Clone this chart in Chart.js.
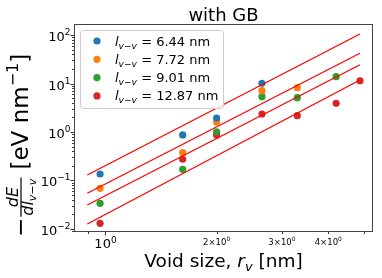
<!DOCTYPE html>
<html>
<head>
<meta charset="utf-8">
<script src="https://cdn.jsdelivr.net/npm/chart.js@4/dist/chart.umd.min.js"></script>
<style>
  body { margin: 0; background: #fff; }
  #wrap { width: 382px; height: 278px; }
</style>
</head>
<body>
<div id="wrap"><canvas id="c" width="382" height="278"></canvas></div>
<script>
// void sizes r_v (nm), shared by all series
const rv = [0.97, 1.62, 2.0, 2.65, 3.3, 4.2, 4.87];
const seriesNames = ['6.44', '7.72', '9.01', '12.87'];
const seriesColors = ['#1f77b4', '#ff7f0e', '#2ca02c', '#d62728'];
const blueY = [0.136, 0.87, 1.94, 10.1];
const orangeY = [0.069, 0.374, 1.61, 7.1, 8.2];
const greenY = [0.0339, 0.170, 1.01, 5.34, 5.1, 13.8];
const redY = [0.0131, 0.274, 0.87, 2.35, 2.17, 3.91, 11.4];
const seriesY = [blueY, orangeY, greenY, redY];

// power-law fit lines (endpoints)
const fitX = [0.896, 4.87];
const fitY = [[0.130, 105], [0.0545, 42], [0.0313, 24.4], [0.0127, 11.8]];

// axis limits and ticks
const xMin = 0.825, xMax = 5.28;
const yMin = 0.00867, yMax = 168.6;
const xMajorTicks = [1];
const xMinorTicks = [0.9, 2, 3, 4, 5];
const xMinorLabels = [2, 3, 4];
const yMajorExp = [-2, -1, 0, 1, 2];

const FONT = '"DejaVu Sans", sans-serif';
const fontOf = p => (p.it ? 'italic ' : '') + p.s + 'px ' + FONT;

function measureRich(ctx, parts) {
    let w = 0;
    parts.forEach(p => { ctx.font = fontOf(p); p.w = ctx.measureText(p.t).width; w += p.w; });
    return w;
}
function rich(ctx, x, y, parts, align) {
    const w = measureRich(ctx, parts);
    let cx = align === 'center' ? x - w / 2 : align === 'right' ? x - w : x;
    ctx.textAlign = 'left'; ctx.textBaseline = 'alphabetic';
    parts.forEach(p => { ctx.font = fontOf(p); ctx.fillText(p.t, cx, y + (p.dy || 0)); cx += p.w; });
    return w;
}
const sup = e => String(e).replace('-', '\u2212');

const decorPlugin = {
    id: 'decor',
    afterDraw(chart) {
        const ctx = chart.ctx, a = chart.chartArea;
        const xs = chart.scales.x, ys = chart.scales.y;
        ctx.save();
        ctx.fillStyle = '#000'; ctx.strokeStyle = '#222'; ctx.lineWidth = 0.9;

        // ticks
        const tick = (x1, y1, x2, y2) => { ctx.beginPath(); ctx.moveTo(x1, y1); ctx.lineTo(x2, y2); ctx.stroke(); };
        yMajorExp.forEach(e => {
            const py = Math.round(ys.getPixelForValue(Math.pow(10, e))) + 0.5;
            tick(a.left, py, a.left - 3.5, py);
            rich(ctx, a.left - 3.5, py + 5, [{ t: '10', s: 13 }, { t: sup(e), s: 9, dy: -5.5 }], 'right');
        });
        for (let e = -3; e <= 2; e++) {
            for (let k = 2; k <= 9; k++) {
                const v = k * Math.pow(10, e);
                if (v < yMin || v > yMax) continue;
                const py = Math.round(ys.getPixelForValue(v)) + 0.5;
                tick(a.left, py, a.left - 2, py);
            }
        }
        xMajorTicks.forEach(v => {
            const px = Math.round(xs.getPixelForValue(v)) + 0.5;
            tick(px, a.bottom, px, a.bottom + 3.5);
            rich(ctx, px, 248, [{ t: '10', s: 13 }, { t: '0', s: 9, dy: -5.5 }], 'center');
        });
        xMinorTicks.forEach(v => {
            const px = Math.round(xs.getPixelForValue(v)) + 0.5;
            tick(px, a.bottom, px, a.bottom + 2);
        });
        xMinorLabels.forEach(v => {
            const px = xs.getPixelForValue(v);
            rich(ctx, px, 244.5, [{ t: v + '\u00d710', s: 8.5 }, { t: '0', s: 6, dy: -3.5 }], 'center');
        });

        // frame
        ctx.strokeStyle = '#444'; ctx.lineWidth = 1;
        ctx.strokeRect(a.left + 0.5, a.top + 0.5, a.right - a.left - 1, a.bottom - a.top - 1);

        // title and x label
        const cx = (a.left + a.right) / 2;
        rich(ctx, cx, 20.5, [{ t: 'with GB', s: 18 }], 'center');
        rich(ctx, cx, 267, [{ t: 'Void size, ', s: 18.5 }, { t: 'r', s: 18.5, it: true },
            { t: 'v', s: 13, it: true, dy: 3.5 }, { t: ' [nm]', s: 18.5 }], 'center');

        // y label, rotated
        ctx.save();
        ctx.translate(0, 237); ctx.rotate(-Math.PI / 2);
        let u = rich(ctx, 0, 28, [{ t: '\u2212', s: 23 }]) + 1;
        const num = [{ t: 'dE', s: 16, it: true }];
        const den = [{ t: 'dl', s: 16, it: true }, { t: 'v\u2212v', s: 11.2, it: true, dy: 2.5 }];
        const fw = Math.max(measureRich(ctx, num), measureRich(ctx, den)) + 2;
        rich(ctx, u + fw / 2, 18, num, 'center');
        rich(ctx, u + fw / 2, 33, den, 'center');
        ctx.fillRect(u, 20.4, fw, 1.2);
        u += fw + 8;
        rich(ctx, u, 28, [{ t: '[eV nm', s: 23 }, { t: '\u22121', s: 16, dy: -10 }, { t: ']', s: 23 }]);
        ctx.restore();

        // legend
        ctx.beginPath();
        ctx.roundRect(80.5, 30.5, 143, 78, 3);
        ctx.fillStyle = 'rgba(255,255,255,0.8)'; ctx.fill();
        ctx.strokeStyle = '#cccccc'; ctx.lineWidth = 1; ctx.stroke();
        seriesNames.forEach((name, i) => {
            const ly = 41 + i * 18.3;
            ctx.fillStyle = seriesColors[i];
            ctx.beginPath(); ctx.arc(97, ly, 3.6, 0, Math.PI * 2); ctx.fill();
            ctx.fillStyle = '#000';
            rich(ctx, 115, ly + 4.5, [{ t: 'l', s: 13, it: true }, { t: 'v\u2212v', s: 9.1, it: true, dy: 3 },
                { t: ' = ' + name + ' nm', s: 13 }]);
        });
        ctx.restore();
    }
};

const datasets = [];
fitY.forEach(f => {
    datasets.push({ type: 'line', data: fitX.map((x, j) => ({ x: x, y: f[j] })), showLine: true,
        borderColor: '#ff0000', borderWidth: 1.3, pointRadius: 0, fill: false });
});
seriesY.forEach((ys, i) => {
    datasets.push({ data: ys.map((y, j) => ({ x: rv[j], y: y })), backgroundColor: seriesColors[i],
        borderWidth: 0, pointRadius: 3.6 });
});

new Chart(document.getElementById('c'), {
    type: 'scatter',
    data: { datasets: datasets },
    options: {
        responsive: false, devicePixelRatio: 1, animation: false,
        layout: { padding: { top: 24, right: 9, left: 0, bottom: 0 } },
        plugins: { legend: { display: false }, tooltip: { enabled: false }, title: { display: false } },
        scales: {
            x: { type: 'logarithmic', min: xMin, max: xMax, grid: { display: false }, border: { display: false },
                ticks: { display: false }, afterFit: s => { s.height = 46; } },
            y: { type: 'logarithmic', min: yMin, max: yMax, grid: { display: false }, border: { display: false },
                ticks: { display: false }, afterFit: s => { s.width = 74; } }
        }
    },
    plugins: [decorPlugin]
});
</script>
</body>
</html>
